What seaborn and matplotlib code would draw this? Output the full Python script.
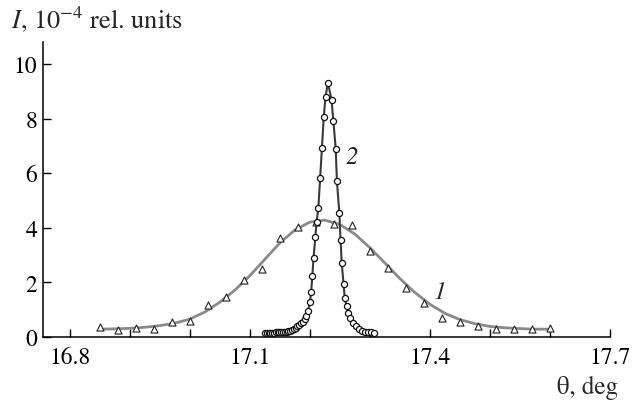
import numpy as np
import pandas as pd
import matplotlib
matplotlib.use("Agg")
import matplotlib.pyplot as plt
from matplotlib.ticker import MultipleLocator
import seaborn as sns

# Кривая 1 — широкий пик (треугольники) и его аппроксимация
theta_1 = [16.85, 16.88, 16.91, 16.94, 16.97, 17.00, 17.03, 17.06, 17.09,
           17.12, 17.15, 17.18, 17.21, 17.24, 17.27, 17.30, 17.33, 17.36,
           17.39, 17.42, 17.45, 17.48, 17.51, 17.54, 17.57, 17.60]
intensity_1 = [0.38, 0.27, 0.33, 0.30, 0.55, 0.60, 1.17, 1.45, 2.10,
               2.50, 3.63, 4.02, 4.23, 4.15, 4.10, 3.16, 2.53, 1.78,
               1.25, 0.70, 0.54, 0.41, 0.29, 0.29, 0.29, 0.33]

fit_theta_1 = [16.850, 16.875, 16.900, 16.925, 16.950, 16.975, 17.000, 17.025,
               17.050, 17.075, 17.100, 17.125, 17.150, 17.175, 17.200, 17.225,
               17.250, 17.275, 17.300, 17.325, 17.350, 17.375, 17.400, 17.425,
               17.450, 17.475, 17.500, 17.525, 17.550, 17.575, 17.600]
fit_intensity_1 = [0.29, 0.30, 0.32, 0.36, 0.42, 0.51, 0.66, 0.92,
                   1.28, 1.72, 2.25, 2.85, 3.45, 3.92, 4.21, 4.28,
                   4.12, 3.77, 3.27, 2.71, 2.14, 1.63, 1.20, 0.87,
                   0.64, 0.49, 0.39, 0.34, 0.31, 0.29, 0.29]

# Кривая 2 — узкий пик (кружки)
theta_2 = [17.125, 17.128, 17.131, 17.134, 17.137, 17.140, 17.143, 17.146,
           17.149, 17.152, 17.155, 17.158, 17.161, 17.164, 17.167, 17.170,
           17.173, 17.176, 17.179, 17.182, 17.185, 17.188, 17.191, 17.194,
           17.197, 17.200, 17.202, 17.204, 17.206, 17.209, 17.211, 17.214,
           17.217, 17.220, 17.223, 17.226, 17.230, 17.236, 17.239, 17.243,
           17.245, 17.249, 17.251, 17.253, 17.256, 17.258, 17.261, 17.264,
           17.267, 17.271, 17.276, 17.281, 17.286, 17.291, 17.296, 17.301,
           17.306]
intensity_2 = [0.16, 0.16, 0.16, 0.16, 0.16, 0.16, 0.17, 0.17,
               0.17, 0.18, 0.18, 0.19, 0.20, 0.22, 0.24, 0.27,
               0.31, 0.35, 0.40, 0.45, 0.50, 0.57, 0.66, 0.78,
               0.96, 1.27, 1.64, 2.25, 2.90, 3.65, 4.20, 4.71,
               5.82, 6.92, 8.05, 8.80, 9.30, 8.69, 7.92, 6.89,
               5.70, 4.55, 3.55, 2.71, 1.96, 1.44, 1.12, 0.87,
               0.69, 0.53, 0.39, 0.29, 0.23, 0.20, 0.18, 0.17,
               0.16]

x_major = [16.8, 17.1, 17.4, 17.7]
y_major = [0, 2, 4, 6, 8, 10]


def main():
    sns.set_style("ticks")
    plt.rcParams["font.family"] = ["STIXGeneral", "DejaVu Serif"]
    plt.rcParams["mathtext.fontset"] = "stix"

    fig = plt.figure(figsize=(6.32, 4.02), dpi=100)
    ax = fig.add_axes([0.068, 0.159, 0.897, 0.734])

    df_fit = pd.DataFrame({"theta": fit_theta_1, "I": fit_intensity_1})
    df_1 = pd.DataFrame({"theta": theta_1, "I": intensity_1})
    df_2 = pd.DataFrame({"theta": theta_2, "I": intensity_2})

    # Аппроксимация широкого пика
    sns.lineplot(data=df_fit, x="theta", y="I", ax=ax, sort=False,
                 color="#8a8a8a", linewidth=2.0, zorder=2)
    sns.scatterplot(data=df_1, x="theta", y="I", ax=ax, marker="^", s=26,
                    facecolor="white", edgecolor="#222222", linewidth=0.8,
                    zorder=3)

    # Узкий пик
    sns.lineplot(data=df_2, x="theta", y="I", ax=ax, sort=False,
                 color="#3a3a3a", linewidth=1.5, marker="o", markersize=4.4,
                 markerfacecolor="white", markeredgecolor="#111111",
                 markeredgewidth=0.9, zorder=4)

    ax.set_xlim(16.755, 17.7)
    ax.set_ylim(0, 10.8)
    ax.set_xticks(x_major)
    ax.set_xticklabels([f"{v:.1f}" for v in x_major])
    ax.xaxis.set_minor_locator(MultipleLocator(0.1))
    ax.set_yticks(y_major)
    ax.set_yticklabels([str(v) for v in y_major])

    ax.tick_params(axis="both", which="both", direction="in", color="black",
                   width=1.0, labelsize=17, labelcolor="black")
    ax.tick_params(axis="both", which="major", length=6)
    ax.tick_params(axis="x", which="minor", length=6)
    ax.tick_params(axis="x", which="major", pad=7)
    ax.tick_params(axis="y", which="major", pad=4)

    sns.despine(ax=ax)
    for side in ["left", "bottom"]:
        ax.spines[side].set_color("black")
        ax.spines[side].set_linewidth(1.1)

    ax.set_xlabel("")
    ax.set_ylabel("")

    # Подписи кривых
    ax.text(17.27, 6.6, "2", fontsize=18, style="italic",
            ha="center", va="center")
    ax.text(17.417, 1.64, "1", fontsize=18, style="italic",
            ha="center", va="center")

    # Подписи осей
    fig.text(0.018, 0.952, r"$I$, 10$^{-4}$ rel. units", fontsize=19,
             ha="left", va="center")
    fig.text(0.978, 0.035, "θ, deg", fontsize=18, ha="right", va="center")

    fig.savefig("out.png", dpi=100)


if __name__ == "__main__":
    main()
